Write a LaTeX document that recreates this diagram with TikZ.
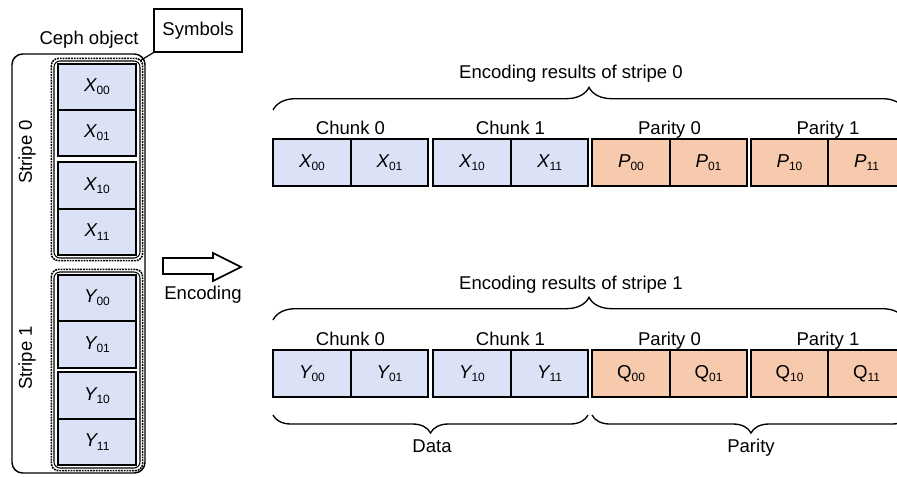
\documentclass[tikz,border=0pt]{standalone}
\usepackage{fontspec}
\setmainfont{Liberation Sans}
\usetikzlibrary{decorations.pathreplacing}

\definecolor{datablue}{RGB}{220,226,246}
\definecolor{parorange}{RGB}{247,201,173}

\newcommand{\symb}[2]{{\fontsize{14}{15}\selectfont\itshape #1}\raisebox{-0.45ex}{\fontsize{9}{10}\selectfont #2}}
\newcommand{\symbup}[2]{{\fontsize{14}{15}\selectfont #1}\raisebox{-0.45ex}{\fontsize{9}{10}\selectfont #2}}

\tikzset{
	lcell/.style={draw, line width=1.4pt, fill=datablue, minimum width=58.5pt, minimum height=34.9pt, inner sep=0pt},
	dcell/.style={draw, line width=1.3pt, fill=datablue, minimum width=58.1pt, minimum height=35.25pt, inner sep=0pt},
	pcell/.style={dcell, fill=parorange},
	grp/.style={draw, line width=0.8pt, rounded corners=4.5pt, minimum width=64.5pt, inner sep=0pt},
	grpdash/.style={line width=1.2pt, dash pattern=on 1.4pt off 0.7pt, rounded corners=5.5pt},
	lbl/.style={font=\fontsize{13.9}{16}\selectfont, inner sep=0pt, anchor=base},
	bracepath/.style={decorate, line width=1pt},
}

\begin{document}
\begin{tikzpicture}[x=0.75pt, y=-0.75pt]
	\useasboundingbox (0,0) rectangle (897,476);
	\clip (0,0) rectangle (897,476);

	% Ceph object
	\node[draw, line width=1.1pt, rounded corners=8pt, minimum width=99.75pt, minimum height=314.25pt] (ceph) at (78.5,263.5) {};
	\node[lbl] (cephlbl) at (89,44) {Ceph object};
	\node[lbl, anchor=center, rotate=90] (st0) at (27,152) {Stripe 0};
	\node[lbl, anchor=center, rotate=90] (st1) at (27,358) {Stripe 1};

		% stripe groups
		\node[grp, minimum height=147.75pt] (g0) at (97,159.5) {};
		\draw[grpdash] ([xshift=-1.6pt,yshift=1.6pt]g0.north west) rectangle ([xshift=1.6pt,yshift=-1.6pt]g0.south east);
		\node[grp, minimum height=147pt] (g1) at (97,370) {};
		\draw[grpdash] ([xshift=-1.6pt,yshift=1.6pt]g1.north west) rectangle ([xshift=1.6pt,yshift=-1.6pt]g1.south east);

		\node[lcell] (x00) at (97,87) {\symb{X}{00}};
		\node[lcell] (x01) at (97,133) {\symb{X}{01}};
		\node[lcell] (x10) at (97,185.5) {\symb{X}{10}};
		\node[lcell] (x11) at (97,232) {\symb{X}{11}};

		\node[lcell] (y00) at (97,298) {\symb{Y}{00}};
		\node[lcell] (y01) at (97,344.5) {\symb{Y}{01}};
		\node[lcell] (y10) at (97,395.5) {\symb{Y}{10}};
		\node[lcell] (y11) at (97,442) {\symb{Y}{11}};

	% Symbols callout
	\node[draw, line width=1pt, minimum width=66pt, minimum height=32.25pt, inner sep=0pt, font=\fontsize{13.9}{16}\selectfont] (sym) at (198,30.5) {Symbols};
	\draw[line width=0.9pt] (sym.south west) -- (g0.north east);

	% Encoding arrow
	\draw[line width=1.2pt, fill=white] (163,258) -- (213,258) -- (213,253) -- (241,267) -- (213,281) -- (213,274) -- (163,274) -- cycle;
	\node[lbl] (enclbl) at (203,299) {Encoding};

	% stripe 0 results
	\draw[bracepath, decoration={brace, amplitude=17pt}] (273,110) -- (905,110);
	\node[lbl] (res0) at (571,78) {Encoding results of stripe 0};

		\node[lbl] (ch00) at (350.5,134.5) {Chunk 0};
		\node[lbl] (ch01) at (510.5,134.5) {Chunk 1};
		\node[lbl] (pa00) at (669.5,134.5) {Parity 0};
		\node[lbl] (pa01) at (828,134.5) {Parity 1};

		\node[dcell] (cx00) at (312,162.5) {\symb{X}{00}};
		\node[dcell] (cx01) at (389.5,162.5) {\symb{X}{01}};
		\node[dcell] (cx10) at (472,162.5) {\symb{X}{10}};
		\node[dcell] (cx11) at (549.5,162.5) {\symb{X}{11}};
		\node[pcell] (cp00) at (631,162.5) {\symb{P}{00}};
		\node[pcell] (cp01) at (708.5,162.5) {\symb{P}{01}};
		\node[pcell] (cp10) at (789.5,162.5) {\symb{P}{10}};
		\node[pcell] (cp11) at (866.5,162.5) {\symb{P}{11}};

	% stripe 1 results
	\draw[bracepath, decoration={brace, amplitude=17pt}] (273,320) -- (905,320);
	\node[lbl] (res1) at (571,289) {Encoding results of stripe 1};

		\node[lbl] (ch10) at (350.5,345.5) {Chunk 0};
		\node[lbl] (ch11) at (510.5,345.5) {Chunk 1};
		\node[lbl] (pa10) at (669.5,345.5) {Parity 0};
		\node[lbl] (pa11) at (828,345.5) {Parity 1};

		\node[dcell] (cy00) at (312,373.5) {\symb{Y}{00}};
		\node[dcell] (cy01) at (389.5,373.5) {\symb{Y}{01}};
		\node[dcell] (cy10) at (472,373.5) {\symb{Y}{10}};
		\node[dcell] (cy11) at (549.5,373.5) {\symb{Y}{11}};
		\node[pcell] (cq00) at (631,373.5) {\symbup{Q}{00}};
		\node[pcell] (cq01) at (708.5,373.5) {\symbup{Q}{01}};
		\node[pcell] (cq10) at (789.5,373.5) {\symbup{Q}{10}};
		\node[pcell] (cq11) at (866.5,373.5) {\symbup{Q}{11}};

	% data / parity
	\draw[bracepath, decoration={brace, amplitude=13.5pt}] (588,415) -- (273,415);
	\node[lbl] (datalbl) at (432,452.5) {Data};
	\draw[bracepath, decoration={brace, amplitude=13.5pt}] (910,415) -- (592,415);
	\node[lbl] (parlbl) at (751,452.5) {Parity};
\end{tikzpicture}
\end{document}
